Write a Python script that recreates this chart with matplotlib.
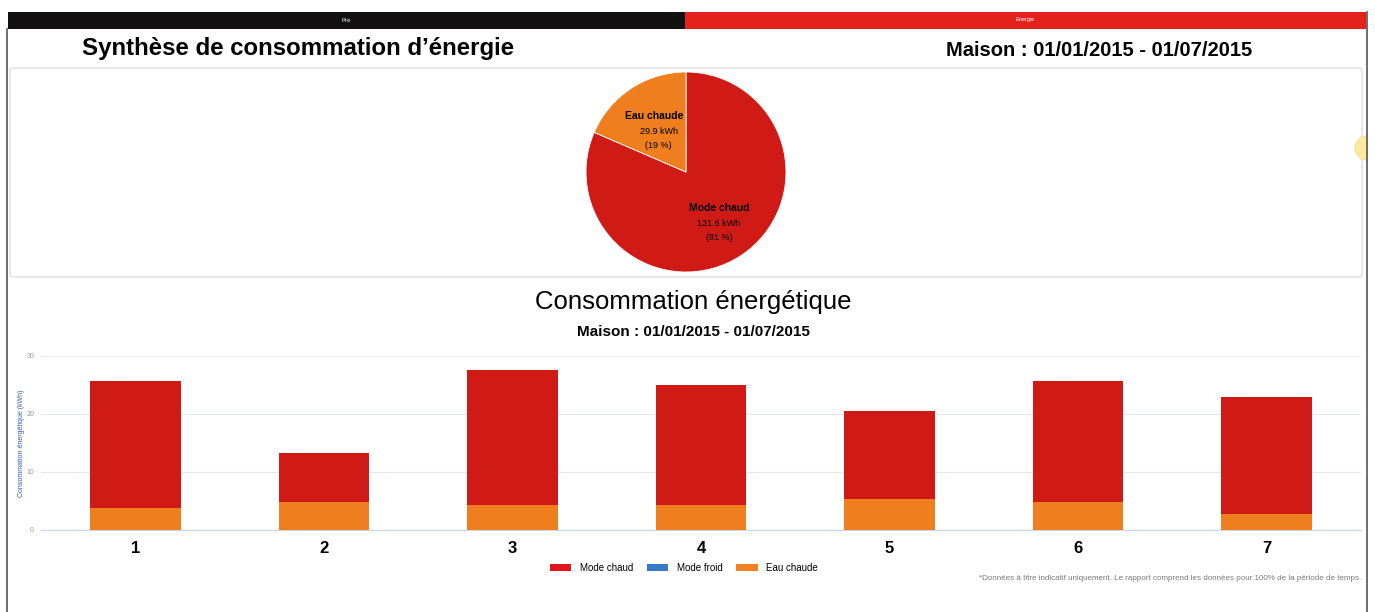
# -*- coding: utf-8 -*-
# Energy consumption summary: pie of totals + stacked bars per period

import numpy as np
import matplotlib
matplotlib.use('Agg')
import matplotlib.pyplot as plt
from matplotlib.patches import Rectangle, Patch, FancyBboxPatch, Wedge

# data
pie_labels = ['Mode chaud', 'Eau chaude']
pie_kwh = [131.6, 29.9]
pie_pct = [81, 19]

periods = ['1', '2', '3', '4', '5', '6', '7']
mode_chaud = [21.9, 8.5, 23.3, 20.7, 15.2, 20.9, 20.1]
mode_froid = [0, 0, 0, 0, 0, 0, 0]
eau_chaude = [3.8, 4.8, 4.3, 4.3, 5.3, 4.8, 2.8]
yticks = [0, 10, 20, 30]

RED = '#d01a16'
ORANGE = '#ee7e1e'
SANS = ['Liberation Sans', 'DejaVu Sans']

W, H = 1375, 612
fig = plt.figure(figsize=(W / 100, H / 100), dpi=100)
fig.patch.set_facecolor('white')

def fx(px):
    return px / W

def fy(py):
    return 1 - py / H

# top tab bar
fig.patches.append(Rectangle((fx(8), fy(29)), fx(677), 17 / H, transform=fig.transFigure,
                             facecolor='#121010', edgecolor='none'))
fig.patches.append(Rectangle((fx(685), fy(29)), fx(681), 17 / H, transform=fig.transFigure,
                             facecolor='#e3221c', edgecolor='none'))
fig.text(fx(346), fy(20), 'Prix', color='white', fontsize=4, ha='center', va='center', family=SANS)
fig.text(fx(1025), fy(20), 'Energie', color='white', fontsize=4, ha='center', va='center', family=SANS)

# outer frame lines
fig.add_artist(plt.Line2D([fx(7), fx(7)], [fy(29), 0], transform=fig.transFigure, color='#555555', lw=1.2))
fig.add_artist(plt.Line2D([fx(1367), fx(1367)], [fy(12), 0], transform=fig.transFigure, color='#555555', lw=1.2))

# headings
fig.text(fx(82), fy(49), 'Synthèse de consommation d\u2019énergie', fontsize=17.3, fontweight='bold',
         ha='left', va='center', family=SANS)
fig.text(fx(1252), fy(50), 'Maison : 01/01/2015 - 01/07/2015', fontsize=14.5, fontweight='bold',
         ha='right', va='center', family=SANS)

# pie panel box
box = FancyBboxPatch((fx(10), fy(277)), fx(1352), 209 / H, transform=fig.transFigure,
                     boxstyle='round,pad=0,rounding_size=0.003',
                     facecolor='white', edgecolor='#e4e4e4', lw=1.2, zorder=-1)
fig.patches.append(box)

# pie
ax_pie = fig.add_axes([fx(586), fy(272), fx(200), 200 / H])
ax_pie.set_zorder(2)
wedges, _ = ax_pie.pie(pie_kwh, colors=[RED, ORANGE], startangle=90, counterclock=False,
                       radius=1, wedgeprops=dict(edgecolor='white', linewidth=0.6))
ax_pie.set_xlim(-1, 1)
ax_pie.set_ylim(-1, 1)
ax_pie.set_aspect('equal')
label_r = [0.6, 0.5]
for w, lab, kwh, pct, r in zip(wedges, pie_labels, pie_kwh, pie_pct, label_r):
    ang = np.deg2rad((w.theta1 + w.theta2) / 2)
    x, y = r * np.cos(ang), r * np.sin(ang)
    ax_pie.text(x - 0.04 * (x < 0), y + 0.14, lab, ha='center', va='center', fontsize=7.5,
                fontweight='bold', family=SANS)
    ax_pie.text(x, y - 0.01, '%.1f kWh' % kwh, ha='center', va='center', fontsize=6.5, family=SANS)
    ax_pie.text(x, y - 0.15, '(%d %%)' % pct, ha='center', va='center', fontsize=6.5, family=SANS)

# little yellow marker on the right edge
fig.patches.append(Wedge((13.67, (H - 148) / 100), 0.12, 90, 270, transform=fig.dpi_scale_trans,
                         facecolor='#fbeaa0', edgecolor='#f6dc78', lw=0.6))

# bar chart titles
fig.text(fx(693), fy(302), 'Consommation énergétique', fontsize=18.5, ha='center', va='center', family=SANS)
fig.text(fx(693), fy(332), 'Maison : 01/01/2015 - 01/07/2015', fontsize=11, fontweight='bold',
         ha='center', va='center', family=SANS)

# stacked bars
ax = fig.add_axes([fx(41), fy(530), fx(1320), (530 - 356) / H])
xpos = np.arange(len(periods))
ax.bar(xpos, eau_chaude, width=0.48, color=ORANGE, zorder=3)
ax.bar(xpos, mode_froid, width=0.48, bottom=eau_chaude, color='#3a78c8', zorder=3)
ax.bar(xpos, mode_chaud, width=0.48, bottom=np.array(eau_chaude) + np.array(mode_froid),
       color=RED, zorder=3)
ax.set_xlim(-0.5, len(periods) - 0.5)
ax.set_ylim(0, 30)
ax.set_yticks(yticks)
ax.set_yticklabels([str(t) for t in yticks], fontsize=5, color='#999999', family=SANS)
ax.set_xticks(xpos)
ax.set_xticklabels(periods, fontsize=12, fontweight='bold', family=SANS)
ax.tick_params(length=0, axis='both')
ax.tick_params(axis='x', pad=8)
ax.tick_params(axis='y', pad=5)
for s in ['top', 'right', 'left']:
    ax.spines[s].set_visible(False)
ax.spines['bottom'].set_color('#c9d5e8')
ax.grid(axis='y', color='#e6e8ec', lw=0.9, zorder=0)
ax.set_ylabel('Consommation énergétique (kWh)', fontsize=5, color='#2f5da8', family=SANS, labelpad=1)

# legend
handles = [Patch(facecolor='#e3141b', label='Mode chaud'),
           Patch(facecolor='#3a78c8', label='Mode froid'),
           Patch(facecolor='#f08020', label='Eau chaude')]
fig.legend(handles=handles, loc='center', bbox_to_anchor=(fx(684), fy(568)), ncol=3, frameon=False,
           prop=dict(family=SANS, size=7), handlelength=2.2, handleheight=0.8, columnspacing=1.4,
           handletextpad=0.9)

# footnote
fig.text(fx(1361), fy(579), '*Données à titre indicatif uniquement. Le rapport comprend les données pour 100% '
         'de la période de temps.', fontsize=5.8, color='#7a7a7a', ha='right', va='center', family=SANS)

fig.savefig('out.png', dpi=100)
